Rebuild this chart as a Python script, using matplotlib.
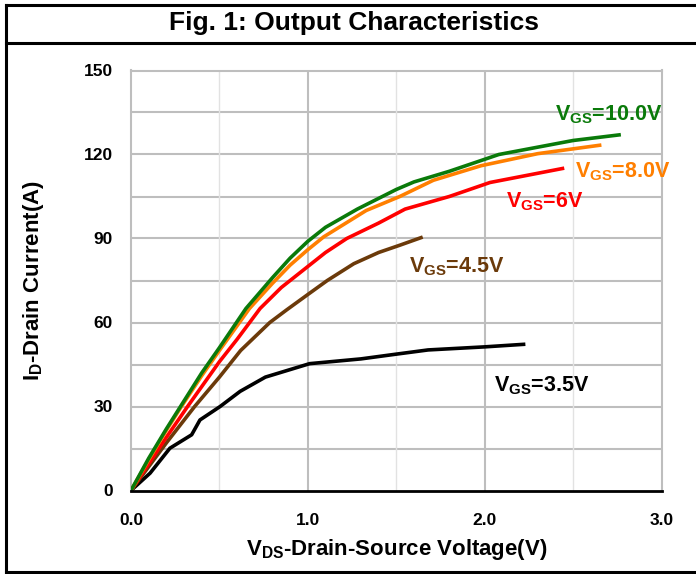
import matplotlib
matplotlib.use("Agg")
import matplotlib.pyplot as plt
from matplotlib.lines import Line2D

FONT = ["Liberation Sans", "DejaVu Sans"]
plt.rcParams["font.family"] = FONT
plt.rcParams["font.weight"] = "bold"
plt.rcParams["axes.labelweight"] = "bold"
plt.rcParams["mathtext.fontset"] = "custom"
plt.rcParams["mathtext.rm"] = "Liberation Sans:bold"
plt.rcParams["mathtext.it"] = "Liberation Sans:bold"
plt.rcParams["mathtext.bf"] = "Liberation Sans:bold"

vds_10 = [0, 0.1, 0.2, 0.28, 0.4, 0.5, 0.65, 0.8, 0.9, 1.0, 1.1, 1.28, 1.5, 1.6, 1.8, 2.08, 2.5, 2.76]
id_10 = [0, 11.5, 22, 30, 42, 51, 65, 76, 83, 89, 94, 100.5, 107.5, 110.2, 114, 120, 125, 127]

vds_8 = [0, 0.1, 0.2, 0.285, 0.4, 0.5, 0.67, 0.8, 0.9, 1.0, 1.09, 1.33, 1.52, 1.71, 1.98, 2.3, 2.65]
id_8 = [0, 11, 21.5, 30, 41, 50, 65, 74, 80.5, 86, 90.6, 100, 105, 110.8, 116, 120.3, 123.3]

vds_6 = [0, 0.1, 0.2, 0.32, 0.5, 0.6, 0.73, 0.85, 1.0, 1.1, 1.22, 1.4, 1.55, 1.8, 2.03, 2.44]
id_6 = [0, 9.5, 19, 30, 46, 54, 65, 72.5, 80, 85, 90, 95.5, 100.5, 105, 110, 115]

vds_45 = [0, 0.1, 0.2, 0.36, 0.5, 0.62, 0.785, 0.88, 1.0, 1.11, 1.26, 1.4, 1.52, 1.64]
id_45 = [0, 8.5, 17, 30, 40.5, 50, 60, 64.5, 70, 75, 81, 85, 87.6, 90.3]

vds_35 = [0, 0.108, 0.22, 0.343, 0.39, 0.504, 0.617, 0.76, 1.01, 1.3, 1.5, 1.68, 2.0, 2.22]
id_35 = [0, 6.2, 15.1, 19.9, 25.2, 30, 35.4, 40.5, 45.3, 47, 48.7, 50.2, 51.3, 52.2]

series = [
    (vds_35, id_35, "black", r"V$_{\mathregular{GS}}$=3.5V", (2.05, 35.5)),
    (vds_45, id_45, "#6B3A0A", r"V$_{\mathregular{GS}}$=4.5V", (1.57, 78)),
    (vds_6, id_6, "#FF0000", r"V$_{\mathregular{GS}}$=6V", (2.12, 101.2)),
    (vds_8, id_8, "#FF7F00", r"V$_{\mathregular{GS}}$=8.0V", (2.51, 111.8)),
    (vds_10, id_10, "#0A7A0A", r"V$_{\mathregular{GS}}$=10.0V", (2.40, 132.1)),
]

fig = plt.figure(figsize=(6.96, 5.74), dpi=100)
ax = fig.add_axes([131 / 696, 1 - 490.5 / 574, 530.5 / 696, 420 / 574])

ax.set_xlim(0, 3)
ax.set_ylim(0, 150)
ax.set_xticks([0, 1, 2, 3])
ax.set_xticklabels(["0.0", "1.0", "2.0", "3.0"])
ax.set_yticks([0, 30, 60, 90, 120, 150])

# grid: horizontal every 15, vertical every 0.5 (lighter at half steps)
for y in range(15, 150, 15):
    ax.axhline(y, color="#BEBEBE", lw=1.5, zorder=1)
for x in [0.5, 1.5, 2.5]:
    ax.axvline(x, color="#E2E2E2", lw=1.0, zorder=1)
for x in [1.0, 2.0]:
    ax.axvline(x, color="#BEBEBE", lw=1.5, zorder=1)

for s in ["left", "top", "right"]:
    ax.spines[s].set_color("#BEBEBE")
    ax.spines[s].set_linewidth(1.5)
ax.spines["bottom"].set_color("black")
ax.spines["bottom"].set_linewidth(2.0)
ax.spines["bottom"].set_zorder(5)

ax.tick_params(length=0, labelsize=12.5)
ax.tick_params(axis="x", pad=16)
ax.tick_params(axis="y", pad=13)
for lab in ax.get_xticklabels() + ax.get_yticklabels():
    lab.set_fontweight("bold")

for xs, ys, color, label, pos in series:
    ax.plot(xs, ys, color=color, lw=2.6, solid_joinstyle="round", zorder=3)
    ax.text(pos[0], pos[1], label, color=color, fontsize=15.5, ha="left", va="baseline")

ax.set_xlabel(r"V$_{\mathregular{DS}}$-Drain-Source Voltage(V)", fontsize=16, labelpad=7)
ax.set_ylabel(r"I$_{\mathregular{D}}$-Drain Current(A)", fontsize=16, labelpad=27)

# frame and title bar
fig.text(354 / 696, 1 - 23 / 574, "Fig. 1: Output Characteristics", fontsize=19,
         ha="center", va="center")
for y in [5, 43, 572]:
    fig.add_artist(Line2D([6 / 696, 1], [1 - y / 574] * 2, color="black", lw=2.2,
                          transform=fig.transFigure))
fig.add_artist(Line2D([6 / 696] * 2, [1 - 572 / 574, 1 - 5 / 574], color="black", lw=2.2,
                      transform=fig.transFigure))

fig.savefig("out.png", dpi=100)
